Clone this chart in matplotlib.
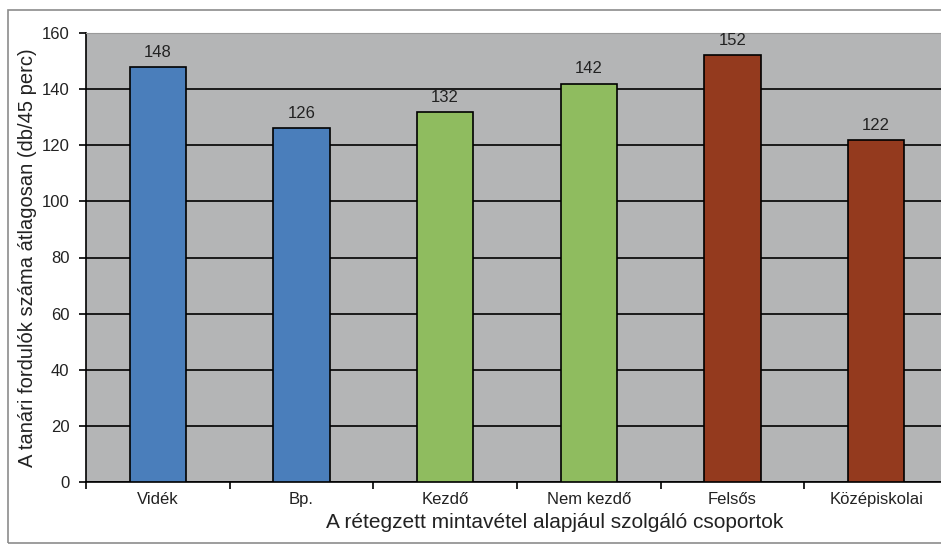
import matplotlib.pyplot as plt
from matplotlib.patches import Rectangle

plt.rcParams['font.family'] = ['Liberation Sans', 'DejaVu Sans']

# csoportok és átlagos fordulószámok
csoportok = ['Vidék', 'Bp.', 'Kezdő', 'Nem kezdő', 'Felsős', 'Középiskolai']
ertekek = [148, 126, 132, 142, 152, 122]
szinek = ['#4a7ebb', '#4a7ebb', '#8fbc5f', '#8fbc5f', '#943a1e', '#943a1e']

W, H = 941, 544
fig = plt.figure(figsize=(W / 100, H / 100), dpi=100)
fig.patch.set_facecolor('white')

# keret a teljes ábra körül
fig.patches.append(Rectangle((8 / W, 1 - 543 / H), 940 / W, 533 / H,
                             transform=fig.transFigure, fill=False,
                             edgecolor='#8c8c8c', linewidth=1.2))

ax = fig.add_axes([86 / W, 1 - 482 / H, 862 / W, 449 / H])
ax.set_facecolor('#b4b5b6')

x = range(len(csoportok))
ax.bar(x, ertekek, width=0.39, color=szinek, edgecolor='black',
       linewidth=1.2, zorder=3)
for xi, v in zip(x, ertekek):
    ax.text(xi, v + 2.5, str(v), ha='center', va='bottom', fontsize=12,
            color='#222222')

ax.set_xlim(-0.5, len(csoportok) - 0.5)
ax.set_ylim(0, 160)
ax.set_yticks(range(0, 161, 20))
ax.yaxis.grid(True, color='black', linewidth=1.2, zorder=1)
ax.set_axisbelow(True)

# kategóriák határán kis osztásjelek
ax.set_xticks([i - 0.5 for i in range(len(csoportok) + 1)])
ax.set_xticklabels([])
ax.set_xticks(list(x), minor=True)
ax.set_xticklabels(csoportok, minor=True, fontsize=12, color='#222222')
ax.tick_params(axis='x', which='minor', length=0, pad=7)
ax.tick_params(axis='x', which='major', length=5, width=1.2, direction='out')
ax.tick_params(axis='y', length=5, width=1.2, labelsize=12,
               labelcolor='#222222', pad=7)

for s in ['top', 'right']:
    ax.spines[s].set_color('#9a9a9a')
    ax.spines[s].set_linewidth(0.8)
for s in ['left', 'bottom']:
    ax.spines[s].set_color('black')
    ax.spines[s].set_linewidth(1.2)

ax.set_ylabel('A tanári fordulók száma átlagosan (db/45 perc)', fontsize=14.5,
              color='#222222', labelpad=3)
fig.text(555 / W, 1 - 522 / H,
         'A rétegzett mintavétel alapjául szolgáló csoportok',
         ha='center', va='center', fontsize=15, color='#222222')

fig.savefig('out.png', dpi=100)
